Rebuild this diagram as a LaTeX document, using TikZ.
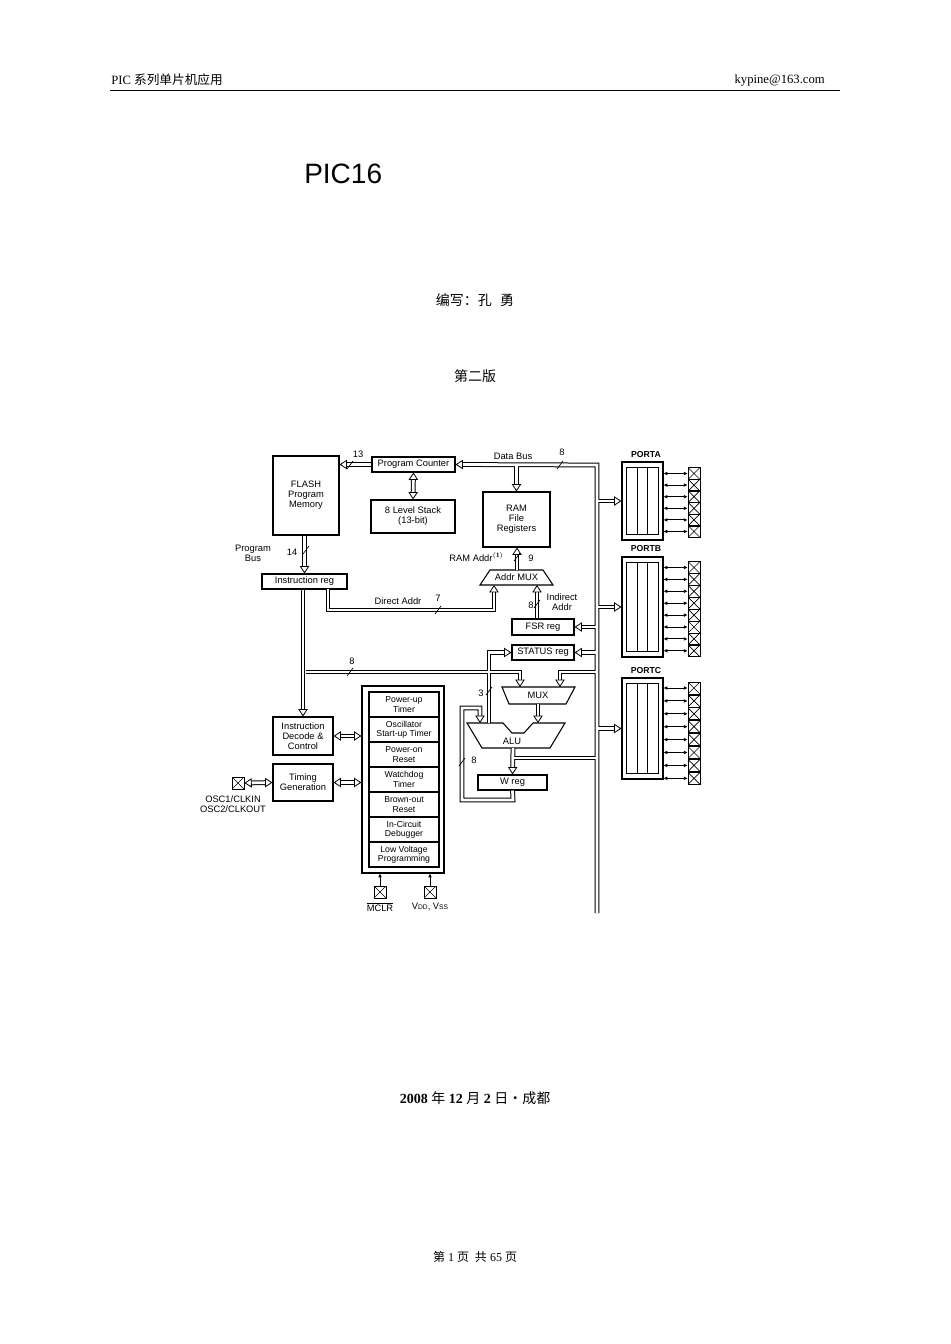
\documentclass[tikz,border=0pt]{standalone}
\usepackage{fontspec}
\setmainfont{Liberation Serif}
\newfontfamily\hv{Liberation Sans}
\newfontfamily\cjk{Noto Sans CJK SC}
\usetikzlibrary{arrows.meta,calc}
\tikzset{
 sz/.style 2 args={minimum width=#1*0.75pt, minimum height=#2*0.75pt},
 box/.style={draw, line width=0.8pt, inner sep=0pt, align=center, font=\hv\fontsize{7}{7.6}\selectfont},
 lbl/.style={inner sep=0pt, align=center, font=\hv\fontsize{7}{7.6}\selectfont},
 pin/.style={draw, line width=0.6pt, minimum size=9pt, inner sep=0pt,
   path picture={\draw[line width=0.5pt] (path picture bounding box.south west)--(path picture bounding box.north east) (path picture bounding box.north west)--(path picture bounding box.south east);}},
 tipo/.tip={Triangle[open,length=5.5pt,width=7pt,color=black,fill=white,line width=0.6pt]},
 p1/.style={line width=3.6pt, black, line join=miter, ae/.style={shorten >=5pt}, ab/.style={shorten >=5pt, shorten <=5pt}, na/.style={}},
 p2/.style={line width=2.1pt, white, line join=miter, ae/.style={shorten >=5pt}, ab/.style={shorten >=5pt, shorten <=5pt}, na/.style={}},
 p3/.style={line width=0.2pt, white, ae/.style={-tipo}, ab/.style={tipo-tipo}, na/.style={draw=none}},
 pinarr/.style={line width=0.7pt, {Latex[length=2.8pt,width=2.8pt]}-{Latex[length=2.8pt,width=2.8pt]}},
 sl/.style={line width=0.5pt},
}
\newcommand\busdraw[1]{%
 \draw[#1,ae] (pc.west) -- (flash.east |- pc.west);
 \draw[#1,ab] (pc.south) -- (stack.north);
 \draw[#1,ae] (busBot) -- (busTop) -- (pc.east);
 \draw[#1,ae] (ram.north |- busTop) -- (ram.north);
 \draw[#1,ae] (flash.south -| ireg.north) -- (ireg.north);
 \draw[#1,ae] (amT) -- (ram.south -| amT);
 \draw[#1,ae] (irDA) -- (328,610) -- (494,610) -- (amB1);
 \draw[#1,ae] (fsr.north -| amB2) -- (amB2);
 \draw[#1,ae] (busTop |- fsr.east) -- (fsr.east);
 \draw[#1,ae] (busTop |- status.east) -- (status.east);
 \draw[#1,ae] (aluS) -- (aluS |- status.west) -- (status.west);
 \draw[#1,ae] (idc.north |- ireg.south) -- (idc.north);
 \draw[#1,ae] (k8) -- (muxL |- k8) -- (muxL);
 \draw[#1,ae] (busTop |- mrk) -- (mrk) -- (muxR);
 \draw[#1,ae] (muxO) -- (aluR);
 \draw[#1,ae] (wreg.south) -- (513,800) -- (462,800) -- (462,708) -- (480,708) -- (aluL);
 \draw[#1,ae] (aluO) -- (wreg.north);
 \draw[#1,na] (aluO2) -- (busTop |- aluO2);
 \draw[#1,ae] (busTop |- porta.west) -- (porta.west);
 \draw[#1,ae] (busTop |- portb.west) -- (portb.west);
 \draw[#1,ae] (busTop |- portc.west) -- (portc.west);
 \draw[#1,ab] (idc.east) -- (idc.east -| big.west);
 \draw[#1,ab] (tim.east) -- (tim.east -| big.west);
 \draw[#1,ab] (osc.east) -- (tim.west);
}
\begin{document}
\begin{tikzpicture}[x=0.75pt,y=-0.75pt]
\path[use as bounding box, fill=white] (0,0) rectangle (950,1344);
% header
\node[anchor=west, inner sep=0pt, font=\fontsize{9.5}{10}\selectfont] (h1) at (111,80) {PIC {\cjk 系列单片机应用}};
\node[anchor=east, inner sep=0pt, font=\fontsize{9.5}{10}\selectfont] (h2) at (825,80) {kypine@163.com};
\coordinate (hl1) at (110,90); \coordinate (hl2) at (840,90);
\draw[line width=0.6pt] (hl1) -- (hl2);
\node[anchor=west, inner sep=0pt, font=\hv\fontsize{21}{24}\selectfont] (title) at (304,174) {PIC16};
\node[inner sep=0pt, font=\cjk\fontsize{10.5}{12}\selectfont] (author) at (475,300) {编写：孔\hspace{0.6em}勇};
\node[inner sep=0pt, font=\cjk\fontsize{10.5}{12}\selectfont] (ed) at (475,376) {第二版};
\node[inner sep=0pt, font=\fontsize{10.5}{12}\selectfont] (date) at (475,1098) {\textbf{2008} {\cjk 年} \textbf{12} {\cjk 月} \textbf{2} {\cjk 日·成都}};
\node[inner sep=0pt, font=\fontsize{9}{10}\selectfont] (foot) at (475,1257) {{\cjk 第} 1 {\cjk 页\enspace 共} 65 {\cjk 页}};
% boxes
\node[box, sz={66}{79}] (flash) at (306,495.5) {FLASH\\Program\\Memory};
\node[box, sz={83}{15}] (pc) at (413.5,464.5) {Program Counter};
\node[box, sz={84}{33}] (stack) at (413,516.5) {8 Level Stack\\(13-bit)};
\node[box, sz={67}{55}] (ram) at (516.5,519.5) {RAM\\File\\Registers};
\node[box, sz={85}{15}] (ireg) at (304.5,581.5) {Instruction reg};
\node[box, sz={62}{16}] (fsr) at (543,627) {FSR reg};
\node[box, sz={62}{15}] (status) at (543,652.5) {STATUS reg};
\node[box, sz={69}{15}] (wreg) at (512.5,782.5) {W reg};
\node[box, sz={60}{38}] (idc) at (303,736) {Instruction\\Decode \&\\Control};
\node[box, sz={60}{37}] (tim) at (303,782.5) {Timing\\Generation};
\node[box, sz={82}{187}] (big) at (403,779.5) {};
\foreach \t [count=\i] in {{Power-up\\Timer},{Oscillator\\Start-up Timer},{Power-on\\Reset},{Watchdog\\Timer},{Brown-out\\Reset},{In-Circuit\\Debugger},{Low Voltage\\Programming}}
  \node[box, sz={70}{25}, font=\hv\fontsize{6.5}{7}\selectfont] (c\i) at (404,{692+25*\i-12.5}) {\t};
% ports
\foreach \n/\cy/\h in {porta/501/78, portb/607/100, portc/728.5/101}{
  \node[box, sz={41}{\h}] (\n) at (642.5,\cy) {};
  \draw[line width=0.7pt] ([shift={(5,6)}]\n.north west) rectangle ([shift={(-5,-6)}]\n.south east);
  \draw[line width=0.7pt] ([shift={(15.5,6)}]\n.north west) -- ([shift={(15.5,-6)}]\n.south west);
  \draw[line width=0.7pt] ([shift={(26,6)}]\n.north west) -- ([shift={(26,-6)}]\n.south west);
}
\node[lbl, font=\hv\bfseries\fontsize{6.5}{7}\selectfont] (pal) at (646,455) {PORTA};
\node[lbl, font=\hv\bfseries\fontsize{6.5}{7}\selectfont] (pbl) at (646,549) {PORTB};
\node[lbl, font=\hv\bfseries\fontsize{6.5}{7}\selectfont] (pcl) at (646,671) {PORTC};
\foreach \i in {0,...,5}{ \node[pin] (pa\i) at (694,{473.5+11.6*\i}) {}; \draw[pinarr] (porta.east |- pa\i) -- (pa\i.west);}
\foreach \i in {0,...,7}{ \node[pin] (pb\i) at (694,{567.5+11.9*\i}) {}; \draw[pinarr] (portb.east |- pb\i) -- (pb\i.west);}
\foreach \i in {0,...,7}{ \node[pin] (pcc\i) at (694,{688+12.9*\i}) {}; \draw[pinarr] (portc.east |- pcc\i) -- (pcc\i.west);}
% trapezoids
\draw[line width=0.8pt] (490,570) -- (543,570) -- (553,585) -- (480,585) -- cycle;
\node[lbl] (amux) at (516.5,577.5) {Addr MUX};
\draw[line width=0.8pt] (502,687) -- (575,687) -- (566,704) -- (509,704) -- cycle;
\node[lbl] (mux) at (538,695.5) {MUX};
\draw[line width=0.8pt] (467,723) -- (503,723) -- (512,733) -- (524,733) -- (533,723) -- (565,723) -- (550,748) -- (482,748) -- cycle;
\node[lbl] (alu) at (512,741) {ALU};
% coordinates
\coordinate (busTop) at (597,465); \coordinate (busBot) at (597,913);
\coordinate (amT) at (517,570); \coordinate (amB1) at (494,585); \coordinate (amB2) at (537,585);
\coordinate (irDA) at (328,589); \coordinate (aluS) at (489,723);
\coordinate (k8) at (306,672); \coordinate (muxL) at (520,687);
\coordinate (mrk) at (560,672); \coordinate (muxR) at (560,687);
\coordinate (muxO) at (538,704); \coordinate (aluR) at (538,723);
\coordinate (aluL) at (480,723); \coordinate (aluO) at (513,748); \coordinate (aluO2) at (513,758);
% pins
\node[pin] (osc) at (238,783) {};
\node[pin] (mclr) at (380,892) {};
\node[pin] (vdd) at (430,892) {};
\draw[line width=0.6pt, -{Latex[length=2.8pt,width=2.8pt]}] (mclr.north) -- (mclr |- big.south);
\draw[line width=0.6pt, -{Latex[length=2.8pt,width=2.8pt]}] (vdd.north) -- (vdd |- big.south);
\node[lbl] (oscl) at (233,804) {OSC1/CLKIN\\OSC2/CLKOUT};
\node[lbl] (mclrl) at (380,907) {$\overline{\mbox{MCLR}}$};
\node[lbl] (vddl) at (430,907) {V{\fontsize{5}{5}\selectfont DD}, V{\fontsize{5}{5}\selectfont SS}};
% buses
\busdraw{p1}\busdraw{p2}\busdraw{p3}
% labels
\node[lbl] (t13) at (358,454) {13}; \draw[sl] (353,461) -- (347,469);
\node[lbl] (tdb) at (513,456) {Data Bus};
\node[lbl] (t8a) at (562,452) {8}; \draw[sl] (563,461) -- (557,469);
\node[lbl] (tpb) at (253,553) {Program\\Bus};
\node[lbl] (t14) at (292,552) {14}; \draw[sl] (309,546) -- (303,554);
\node[lbl, anchor=east] (tra) at (504,557) {RAM Addr$^{\mathbf{(1)}}$};
\node[lbl] (t9) at (531,558) {9}; \draw[sl] (520,553) -- (514,561);
\node[lbl] (tda) at (398,601) {Direct Addr};
\node[lbl] (t7) at (438,598) {7}; \draw[sl] (441,606) -- (435,614);
\node[lbl] (t8b) at (531,605) {8}; \draw[sl] (540,600) -- (534,608);
\node[lbl] (tia) at (562,602) {Indirect\\Addr};
\node[lbl] (t8c) at (352,661) {8}; \draw[sl] (353,668) -- (347,676);
\node[lbl] (t3) at (481,693) {3}; \draw[sl] (492,687) -- (486,695);
\node[lbl] (t8d) at (474,760) {8}; \draw[sl] (465,758) -- (459,766);
\end{tikzpicture}
\end{document}
